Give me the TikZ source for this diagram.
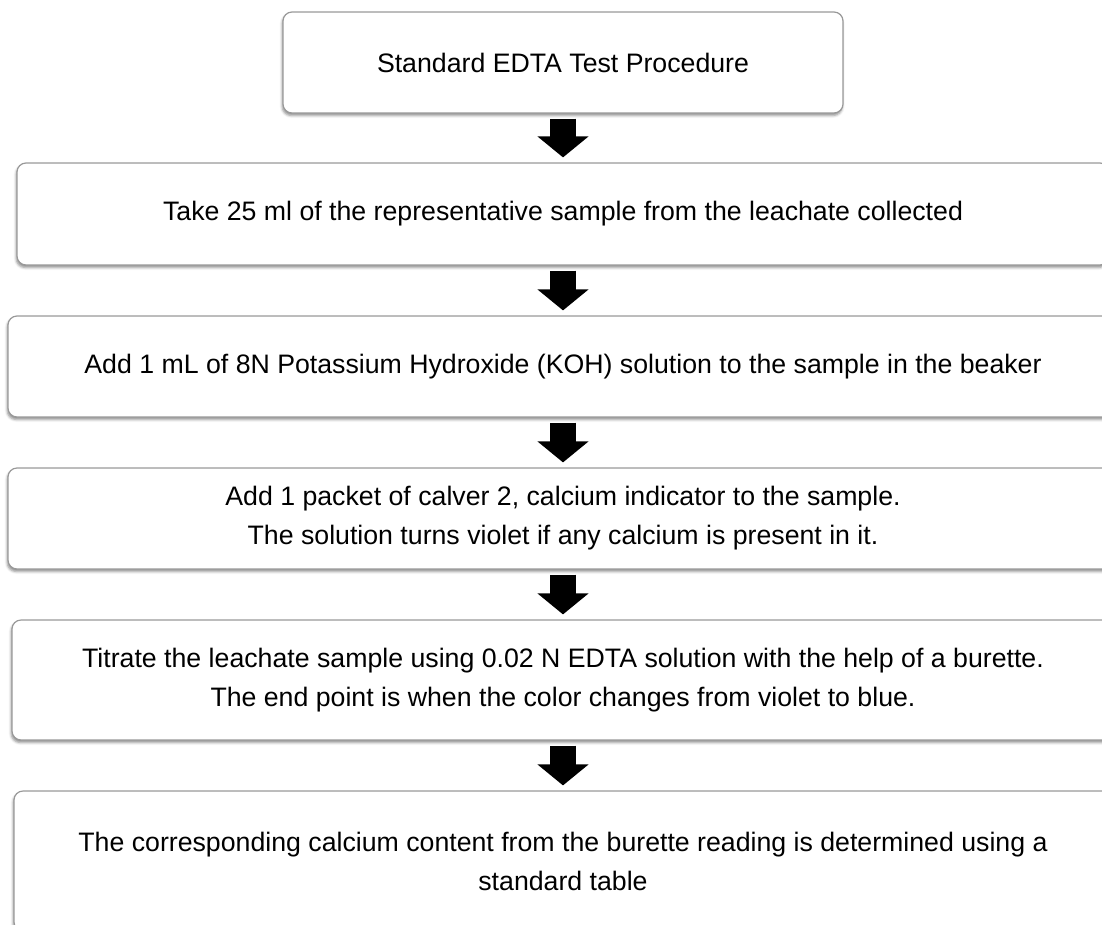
\documentclass[tikz,border=0pt]{standalone}
\usepackage{fontspec}
\setmainfont{Liberation Sans}
\usetikzlibrary{arrows.meta,shadows.blur}
\begin{document}
\begin{tikzpicture}[x=1pt, y=-1pt,
		stepbox/.style={draw=black!40, line width=1.2pt, rounded corners=9pt, fill=white, align=center, inner sep=0pt,
			font=\fontsize{26.7}{39}\selectfont,
			blur shadow={shadow xshift=-0.8pt, shadow yshift=-2.5pt, shadow blur radius=2.5pt, shadow opacity=45}},
		downarrow/.style={line width=26pt, -{Triangle[width=50pt, length=21pt]}, shorten <=5pt, shorten >=5pt}]
								\useasboundingbox (0, 0) rectangle (1102, 924);
								\clip (0, 0) rectangle (1102, 924);
								\node[stepbox, minimum width=560pt, minimum height=101pt] (start) at (563, 62.5){Standard EDTA Test Procedure};
								\node[stepbox, minimum width=1092pt, minimum height=102pt] (sample) at (563, 214){Take 25 ml of the representative sample from the leachate collected};
								\node[stepbox, minimum width=1110pt, minimum height=101pt] (koh) at (563, 366.5){Add 1 mL of 8N Potassium Hydroxide (KOH) solution to the sample in the beaker};
								\node[stepbox, minimum width=1110pt, minimum height=101pt] (calver) at (563, 518.5){Add 1 packet of calver 2, calcium indicator to the sample.\\The solution turns violet if any calcium is present in it.};
								\node[stepbox, minimum width=1102pt, minimum height=120pt] (titrate) at (563, 680){Titrate the leachate sample using 0.02 N EDTA solution with the help of a burette.\\The end point is when the color changes from violet to blue.};
								\node[stepbox, minimum width=1098pt, minimum height=140pt] (result) at (563, 861){The corresponding calcium content from the burette reading is determined using a\\standard table};
								\draw[downarrow] (start.south) -- (sample.north);
								\draw[downarrow] (sample.south) -- (koh.north);
								\draw[downarrow] (koh.south) -- (calver.north);
								\draw[downarrow] (calver.south) -- (titrate.north);
								\draw[downarrow] (titrate.south) -- (result.north);
							\end{tikzpicture}
\end{document}
